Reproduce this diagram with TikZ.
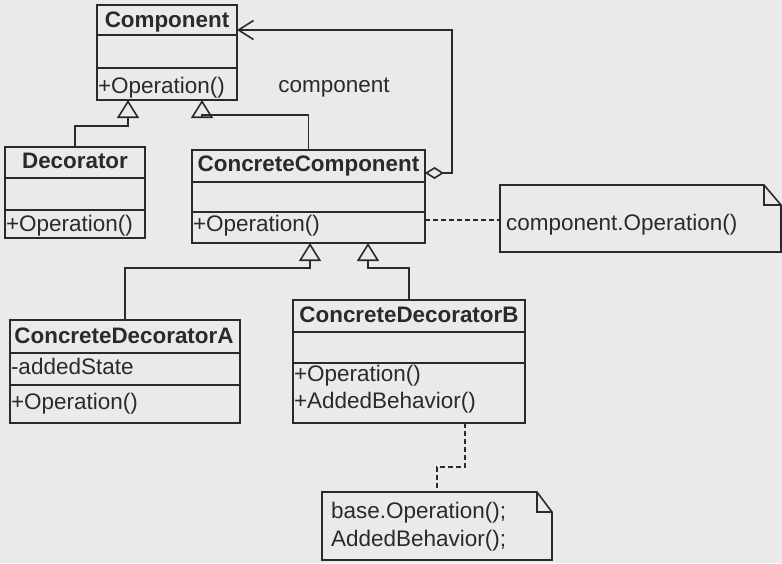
\documentclass[tikz,border=0pt]{standalone}
\usepackage{fontspec}
\setmainfont{Liberation Sans}
\usetikzlibrary{arrows.meta}
\definecolor{paper}{RGB}{234,234,234}
\definecolor{ink}{RGB}{42,42,42}

\begin{document}
\begin{tikzpicture}[x=1pt, y=-1pt,
  every node/.style={inner sep=0pt, outer sep=0pt},
  umlbox/.style={draw=ink, line width=1.6pt, rectangle, anchor=north west},
  notebox/.style={rectangle, anchor=north west},
  txt/.style={font=\fontsize{22.5}{27}\selectfont, text=ink, text height=16.3pt, text depth=4.7pt},
  title/.style={txt, font=\fontsize{22.4}{27}\selectfont\bfseries},
  member/.style={txt, anchor=west},
  conn/.style={draw=ink, line width=1.6pt},
  sepline/.style={draw=ink, line width=1.6pt},
  inherit/.style={conn, -{Triangle[open, width=22pt, length=18pt]}},
  aggreg/.style={conn, {Diamond[open, length=19pt, width=12pt]}-{Straight Barb[length=15pt, width=19pt]}},
  noteline/.style={conn, dash pattern=on 5pt off 3pt}
]
% page
\fill[paper] (0,0) rectangle (782,563);
\useasboundingbox (0,0) rectangle (782,563);

% ---------- class boxes ----------
\node[umlbox, minimum width=140pt, minimum height=95pt] (comp) at (97,5) {};
\draw[sepline] ([yshift=-30pt]comp.north west) -- ([yshift=-30pt]comp.north east);
\draw[sepline] ([yshift=-63pt]comp.north west) -- ([yshift=-63pt]comp.north east);
\node[title] (compT) at (167,22) {Component};
\node[member] (compO) at (98,88) {+Operation()};

\node[umlbox, minimum width=140pt, minimum height=91pt] (dec) at (5,147) {};
\draw[sepline] ([yshift=-31pt]dec.north west) -- ([yshift=-31pt]dec.north east);
\draw[sepline] ([yshift=-63pt]dec.north west) -- ([yshift=-63pt]dec.north east);
\node[title] (decT) at (75,163) {Decorator};
\node[member] (decO) at (6,226) {+Operation()};

\node[umlbox, minimum width=233pt, minimum height=93pt] (cc) at (192,150) {};
\draw[sepline] ([yshift=-32pt]cc.north west) -- ([yshift=-32pt]cc.north east);
\draw[sepline] ([yshift=-62pt]cc.north west) -- ([yshift=-62pt]cc.north east);
\node[title] (ccT) at (308.5,166) {ConcreteComponent};
\node[member] (ccO) at (193,226) {+Operation()};

\node[umlbox, minimum width=230pt, minimum height=103pt] (cda) at (10,320) {};
\draw[sepline] ([yshift=-33pt]cda.north west) -- ([yshift=-33pt]cda.north east);
\draw[sepline] ([yshift=-65pt]cda.north west) -- ([yshift=-65pt]cda.north east);
\node[title] (cdaT) at (124,338) {ConcreteDecoratorA};
\node[member] (cdaS) at (11,369) {-addedState};
\node[member] (cdaO) at (11,404) {+Operation()};

\node[umlbox, minimum width=232pt, minimum height=123pt] (cdb) at (293,300) {};
\draw[sepline] ([yshift=-32pt]cdb.north west) -- ([yshift=-32pt]cdb.north east);
\draw[sepline] ([yshift=-63pt]cdb.north west) -- ([yshift=-63pt]cdb.north east);
\node[title] (cdbT) at (409,317) {ConcreteDecoratorB};
\node[member] (cdbO) at (294,376) {+Operation()};
\node[member] (cdbB) at (294,403) {+AddedBehavior()};

% ---------- notes with folded corner ----------
\node[notebox, minimum width=281pt, minimum height=67pt] (n1) at (500,185) {};
\draw[conn] (n1.north west) -- ([xshift=-17pt]n1.north east) -- ([yshift=-20pt]n1.north east)
  -- (n1.south east) -- (n1.south west) -- cycle;
\draw[conn] ([xshift=-17pt]n1.north east) |- ([yshift=-20pt]n1.north east);
\node[member] (n1t) at (506,225) {component.Operation()};

\node[notebox, minimum width=230pt, minimum height=68pt] (n2) at (322,492) {};
\draw[conn] (n2.north west) -- ([xshift=-15pt]n2.north east) -- ([yshift=-20pt]n2.north east)
  -- (n2.south east) -- (n2.south west) -- cycle;
\draw[conn] ([xshift=-15pt]n2.north east) |- ([yshift=-20pt]n2.north east);
\node[member] (n2a) at (331,513) {base.Operation();};
\node[member] (n2b) at (331,541) {AddedBehavior();};

% ---------- generalisations ----------
\draw[inherit] (dec.north) -- ++(0,-21) -| ([xshift=31pt]comp.south west);
\draw[inherit] (cc.north) -- ++(0,-35) -| ([xshift=105pt]comp.south west);
\draw[inherit] (cda.north) -- ++(0,-52) -| ([xshift=118pt]cc.south west);
\draw[inherit] (cdb.north) -- ++(0,-32) -| ([xshift=176pt]cc.south west);

% ---------- aggregation ----------
\draw[aggreg] ([yshift=-23pt]cc.north east) -- ++(27,0) |- ([yshift=-25pt]comp.north east);
\node[txt] (aggL) at (334,87) {component};

% ---------- note anchors ----------
\draw[noteline] ([yshift=-1.5pt]cc.east |- n1.west) -- ([yshift=-1.5pt]n1.west);
\draw[noteline] ([xshift=172pt]cdb.south west) -- ++(0,44) -| (n2.north);
\end{tikzpicture}
\end{document}
